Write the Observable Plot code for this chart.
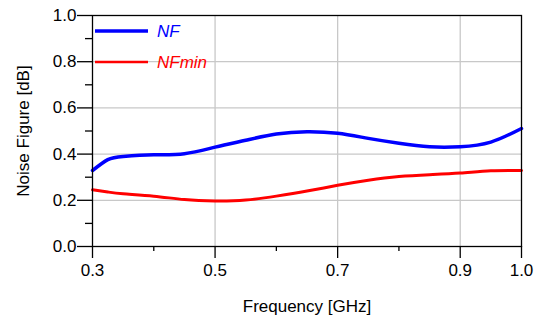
<!DOCTYPE html>
<html><head><meta charset="utf-8">
<script src="https://cdn.jsdelivr.net/npm/d3@7"></script>
<script src="https://cdn.jsdelivr.net/npm/@observablehq/plot@0.6"></script>
<style>body{margin:0;background:#fff} svg text{font-family: Arial, "Liberation Sans", Helvetica, sans-serif !important;}</style>
</head><body><div id="chart"></div>
<script>
const freq  = [0.30, 0.325, 0.35, 0.40, 0.45, 0.50, 0.55, 0.60, 0.65, 0.70, 0.75, 0.80, 0.85, 0.90, 0.95, 1.00];
const nf    = [0.329, 0.376, 0.390, 0.397, 0.402, 0.430, 0.460, 0.487, 0.497, 0.490, 0.468, 0.447, 0.432, 0.432, 0.452, 0.511];
const nfmin = [0.246, 0.236, 0.228, 0.218, 0.203, 0.197, 0.201, 0.218, 0.240, 0.265, 0.287, 0.303, 0.311, 0.318, 0.328, 0.329];
const xMajor = [0.3, 0.5, 0.7, 0.9, 1.0];
const xMinor = [0.4, 0.6, 0.8];
const yMajor = [0.0, 0.2, 0.4, 0.6, 0.8, 1.0];
const yMinor = [0.1, 0.3, 0.5, 0.7, 0.9];
const xGrid = [0.5, 0.7, 0.9];
const yGrid = [0.2, 0.4, 0.6, 0.8];
const seriesNames = ["NF", "NFmin"];
const seriesColors = ["#0000ff", "#ff0000"];
const xLabel = "Frequency [GHz]";
const yLabel = "Noise Figure [dB]";

const rows = freq.map((f, i) => ({f, nf: nf[i], nfmin: nfmin[i]}));
const fmt = d3.format(".1f");
const font = "Arial, 'Liberation Sans', Helvetica, sans-serif";

const plot = Plot.plot({
  width: 541, height: 322,
  marginLeft: 92, marginRight: 20, marginTop: 15, marginBottom: 76,
  style: {fontFamily: font, fontSize: "17px", color: "#000", background: "#fff"},
  x: {domain: [0.3, 1.0]},
  y: {domain: [0, 1]},
  marks: [
    Plot.gridX(xGrid, {stroke: "#c8c8c8", strokeOpacity: 1, strokeWidth: 1.3}),
    Plot.gridY(yGrid, {stroke: "#c8c8c8", strokeOpacity: 1, strokeWidth: 1.3}),
    Plot.axisX({ticks: xMajor, tickSize: 12, tickPadding: 5, tickFormat: fmt, label: null, strokeWidth: 1.3}),
    Plot.axisX({ticks: xMinor, tickSize: 5, tickFormat: () => "", label: null, strokeWidth: 1.3}),
    Plot.axisY({ticks: yMajor, tickSize: 15, tickPadding: 1, tickFormat: fmt, label: null, strokeWidth: 1.3}),
    Plot.axisY({ticks: yMinor, tickSize: 7, tickFormat: () => "", label: null, strokeWidth: 1.3}),
    Plot.line(rows, {x: "f", y: "nfmin", stroke: seriesColors[1], strokeWidth: 3, curve: "natural"}),
    Plot.line(rows, {x: "f", y: "nf", stroke: seriesColors[0], strokeWidth: 3.5, curve: "natural"}),
    Plot.frame({stroke: "#000", strokeWidth: 1.3}),
    Plot.text([xLabel], {frameAnchor: "bottom", textAnchor: "middle", dy: 60, lineAnchor: "middle", text: d => d, fill: "#000"}),
    Plot.text([yLabel], {frameAnchor: "left", textAnchor: "middle", dx: -69, rotate: -90, lineAnchor: "middle", text: d => d, fill: "#000"})
  ]
});
document.getElementById("chart").appendChild(plot);

// legend overlay (inside the plot, top-left)
const svg = d3.select(plot);
const lg = svg.append("g").attr("text-anchor", "start");
const legendY = [31, 62];
seriesNames.forEach((name, i) => {
  lg.append("line").attr("x1", 95).attr("x2", 148).attr("y1", legendY[i]).attr("y2", legendY[i])
    .attr("stroke", seriesColors[i]).attr("stroke-width", i === 0 ? 3.5 : 2.5);
  lg.append("text").attr("x", 157).attr("y", legendY[i] + 6)
    .attr("text-anchor", "start")
    .attr("fill", seriesColors[i]).attr("font-style", "italic")
    .attr("font-family", font).attr("font-size", 17).text(name);
});
</script>
</body></html>
